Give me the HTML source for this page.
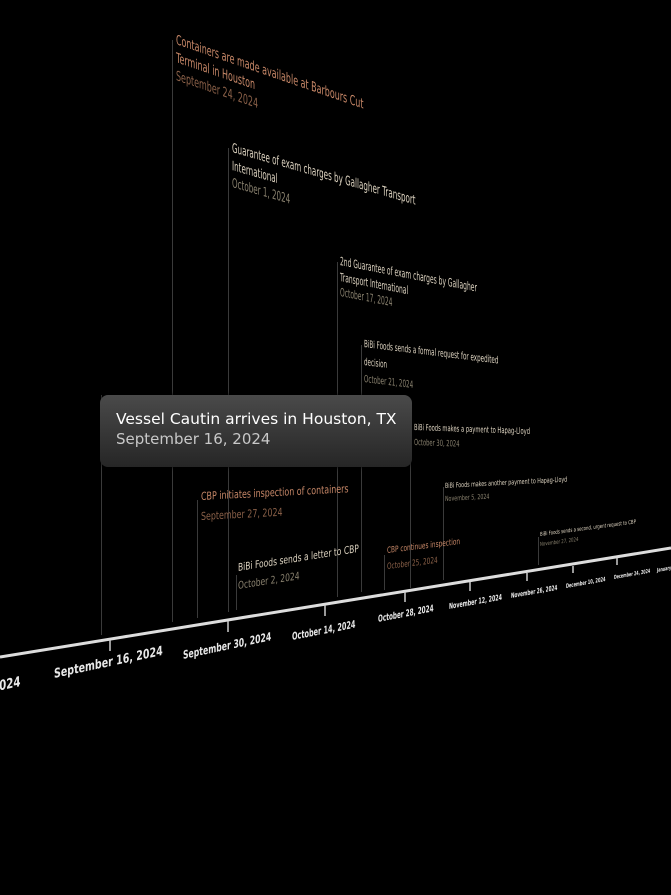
<!DOCTYPE html>
<html><head><meta charset="utf-8"><style>
html,body{margin:0;padding:0;background:#000;width:671px;height:895px;overflow:hidden;font-family:"DejaVu Sans","Liberation Sans",sans-serif}
.l{position:absolute;width:1px;background:#3a3a3a}
.t{position:absolute;transform-origin:0 0;white-space:nowrap;line-height:1.35}
.o{color:#c88868}.od{color:#8a6048}
.w{color:#ddd3c0}.wd{color:#8a826f}
.a{position:absolute;transform-origin:0 0;white-space:nowrap;color:#e8e8e8;font-weight:bold}
</style></head><body>
<div class="l" style="left:101px;top:395px;height:240px"></div>
<div class="l" style="left:172px;top:40px;height:582px"></div>
<div class="l" style="left:197px;top:500px;height:118px"></div>
<div class="l" style="left:228px;top:148px;height:464px"></div>
<div class="l" style="left:236px;top:575px;height:35px"></div>
<div class="l" style="left:337px;top:262px;height:335px"></div>
<div class="l" style="left:361px;top:345px;height:247px"></div>
<div class="l" style="left:384px;top:555px;height:35px"></div>
<div class="l" style="left:410px;top:430px;height:158px"></div>
<div class="l" style="left:443px;top:487px;height:93px"></div>
<div class="l" style="left:538px;top:537px;height:28px"></div>

<svg style="position:absolute;left:0;top:0" width="671" height="895">
<line x1="0" y1="657" x2="671" y2="548" stroke="#ddd" stroke-width="3"/>
<g stroke="#ccc" stroke-width="1.5">
<line x1="110" y1="640" x2="110" y2="651"/><line x1="228" y1="621" x2="228" y2="632"/>
<line x1="325" y1="605" x2="325" y2="616"/><line x1="405" y1="592" x2="405" y2="602"/>
<line x1="470" y1="582" x2="470" y2="591"/><line x1="527" y1="573" x2="527" y2="581"/>
<line x1="573" y1="566" x2="573" y2="573"/><line x1="617" y1="558" x2="617" y2="565"/>
</g></svg>
<div class="a" style="left:-8px;top:680px;font-size:14px;transform:skewY(-12deg) scaleX(0.73)">2024</div>
<div class="a" style="left:54px;top:667px;font-size:13px;transform:skewY(-12deg) scaleX(0.73)">September 16, 2024</div>
<div class="a" style="left:183px;top:648px;font-size:11.5px;transform:skewY(-12deg) scaleX(0.67)">September 30, 2024</div>
<div class="a" style="left:292px;top:631px;font-size:10.5px;transform:skewY(-11deg) scaleX(0.62)">October 14, 2024</div>
<div class="a" style="left:378px;top:614px;font-size:9.5px;transform:skewY(-11deg) scaleX(0.6)">October 28, 2024</div>
<div class="a" style="left:449px;top:602px;font-size:8px;transform:skewY(-10deg) scaleX(0.6)">November 12, 2024</div>
<div class="a" style="left:511px;top:592px;font-size:7px;transform:skewY(-10deg) scaleX(0.6)">November 26, 2024</div>
<div class="a" style="left:566px;top:583px;font-size:6px;transform:skewY(-10deg) scaleX(0.6)">December 10, 2024</div>
<div class="a" style="left:614px;top:575px;font-size:5.5px;transform:skewY(-10deg) scaleX(0.6)">December 24, 2024</div>
<div class="a" style="left:657px;top:568px;font-size:5.5px;transform:skewY(-10deg) scaleX(0.6)">January</div>

<div class="t" style="left:176px;top:31px;font-size:13.5px;transform:skewY(19deg) scaleX(0.59)"><div class="o">Containers are made available at Barbours Cut<br>Terminal in Houston</div><div class="od">September 24, 2024</div></div>
<div class="t" style="left:232px;top:140px;font-size:13px;transform:skewY(16deg) scaleX(0.55)"><div class="w">Guarantee of exam charges by Gallagher Transport<br>International</div><div class="wd">October 1, 2024</div></div>
<div class="t" style="left:340px;top:254px;font-size:11.5px;transform:skewY(11deg) scaleX(0.52)"><div class="w">2nd Guarantee of exam charges by Gallagher<br>Transport International</div><div class="wd">October 17, 2024</div></div>
<div class="t" style="left:364px;top:336px;font-size:10px;line-height:1.75;transform:skewY(7deg) scaleX(0.56)"><div class="w">BiBi Foods sends a formal request for expedited<br>decision</div><div class="wd">October 21, 2024</div></div>
<div class="t" style="left:414px;top:421px;font-size:8.5px;line-height:1.75;transform:skewY(2deg) scaleX(0.61)"><div class="w">BiBi Foods makes a payment to Hapag-Lloyd</div><div class="wd">October 30, 2024</div></div>
<div class="t" style="left:445px;top:480px;font-size:7px;line-height:1.8;transform:skewY(-3deg) scaleX(0.68)"><div class="w">BiBi Foods makes another payment to Hapag-Lloyd</div><div class="wd">November 5, 2024</div></div>
<div class="t" style="left:540px;top:530px;font-size:5.5px;line-height:1.9;transform:skewY(-7.5deg) scaleX(0.7)"><div class="w">BiBi Foods sends a second, urgent request to CBP</div><div class="wd">November 27, 2024</div></div>
<div class="t" style="left:201px;top:487px;font-size:11px;line-height:1.8;transform:skewY(-3deg) scaleX(0.72)"><div class="o">CBP initiates inspection of containers</div><div class="od">September 27, 2024</div></div>
<div class="t" style="left:238px;top:560px;font-size:10.5px;line-height:1.7;transform:skewY(-9deg) scaleX(0.72)"><div class="w">BiBi Foods sends a letter to CBP</div><div class="wd">October 2, 2024</div></div>
<div class="t" style="left:387px;top:543px;font-size:8.5px;line-height:1.9;transform:skewY(-7deg) scaleX(0.68)"><div class="o">CBP continues inspection</div><div class="od">October 25, 2024</div></div>

<div style="position:absolute;left:100px;top:395px;width:312px;height:72px;border-radius:8px;background:linear-gradient(#4a4a4a,#262626);box-shadow:0 0 4px #000"></div>
<div style="position:absolute;left:116px;top:410px;font-size:15.5px;color:#fff;white-space:nowrap">Vessel Cautin arrives in Houston, TX</div>
<div style="position:absolute;left:116px;top:430px;font-size:15px;color:#c8c8c8;white-space:nowrap">September 16, 2024</div>
</body></html>
